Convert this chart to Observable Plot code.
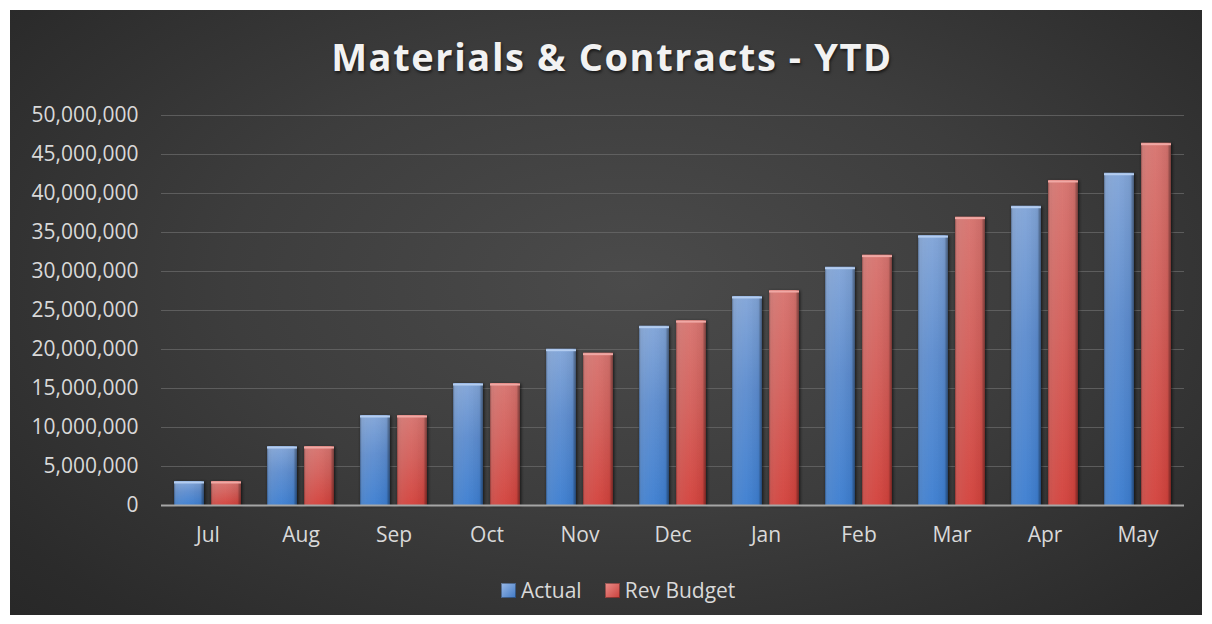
<!DOCTYPE html>
<html>
<head>
<meta charset="utf-8">
<script src="https://cdn.jsdelivr.net/npm/d3@7"></script>
<script src="https://cdn.jsdelivr.net/npm/@observablehq/plot@0.6"></script>
<style>
  html, body { margin: 0; padding: 0; background: #ffffff; }
  #panel {
    position: absolute; left: 10px; top: 10px; width: 1192px; height: 605px;
    background: radial-gradient(ellipse 75% 85% at 52% 45%, #4b4b4b 0%, #3d3d3d 45%, #2b2b2b 85%, #262626 100%);
    font-family: "Open Sans", "Noto Sans", sans-serif; overflow: hidden;
  }
  #title {
    position: absolute; left: 0; width: 1192px; top: 27px; text-align: center;
    font-size: 38px; line-height: 38px; font-weight: 700; letter-spacing: 1.6px;
    color: #f2f2f2; text-shadow: 1px 2px 3px rgba(0,0,0,0.6); padding-left: 12px; box-sizing: border-box;
  }
  #chart { position: absolute; left: 0; top: 85px; }
  #legend {
    position: absolute; left: 491px; top: 566px; display: flex; align-items: center;
    font-size: 21px; color: #d9d9d9; line-height: 28px;
  }
  .sw { width: 15px; height: 15px; display: inline-block; margin-right: 5px; box-shadow: inset 0 0 0 1px rgba(0,0,0,0.35); }
  .item { display: flex; align-items: center; margin-right: 23px; }
</style>
</head>
<body>
<div id="panel">
  <div id="title">Materials &amp; Contracts - YTD</div>
  <div id="chart"></div>
  <div id="legend"></div>
</div>
<script>
const months = ["Jul","Aug","Sep","Oct","Nov","Dec","Jan","Feb","Mar","Apr","May"];
const series = ["Actual","Rev Budget"];
const actual = [3080000, 7560000, 11540000, 15640000, 20040000, 22990000, 26800000, 30550000, 34600000, 38370000, 42600000];
const revBudget = [3080000, 7560000, 11540000, 15640000, 19530000, 23700000, 27560000, 32100000, 36970000, 41670000, 46450000];
const yTicks = [0, 5000000, 10000000, 15000000, 20000000, 25000000, 30000000, 35000000, 40000000, 45000000, 50000000];
const fills = {"Actual": "url(#gradBlue)", "Rev Budget": "url(#gradRed)"};
const swatch = {"Actual": "linear-gradient(135deg,#9cbbe8,#3f78c4)", "Rev Budget": "linear-gradient(135deg,#ec8e8a,#c8403b)"};

const data = [];
months.forEach((m, i) => {
  data.push({month: m, series: "Actual", value: actual[i]});
  data.push({month: m, series: "Rev Budget", value: revBudget[i]});
});

const chart = Plot.plot({
  width: 1192,
  height: 465,
  marginLeft: 149,
  marginRight: 16,
  marginTop: 20,
  marginBottom: 55,
  style: {background: "transparent", color: "#d9d9d9", fontFamily: "'Open Sans', 'Noto Sans', sans-serif", fontSize: "21px", overflow: "visible"},
  fx: {domain: months, padding: 0, label: null},
  x: {domain: series, paddingInner: 0.2, paddingOuter: 0.35, axis: null},
  y: {domain: [0, 50000000], label: null},
  marks: [
    Plot.gridY(yTicks, {stroke: "#6a6a6a", strokeOpacity: 0.75, strokeWidth: 1.2}),
    Plot.axisY(yTicks, {tickSize: 0, tickPadding: 23, tickFormat: d3.format(","), fontSize: 21, fill: "#d9d9d9"}),
    Plot.axisFx({anchor: "bottom", tickSize: 0, tickPadding: 22, fontSize: 21, fill: "#d9d9d9", label: null}),
    Plot.barY(data, {fx: "month", x: "series", y: "value", fill: d => fills[d.series]}),
    Plot.barY(data, {fx: "month", x: "series", y: "value", fill: "url(#gradShade)"}),
    Plot.tickY(data, {fx: "month", x: "series", y: "value", stroke: d => d.series === "Actual" ? "#b4cdf0" : "#f0a8a4", strokeWidth: 2, dy: 1}),
    Plot.ruleY([0], {stroke: "#a6a6a6", strokeWidth: 2})
  ]
});

// gradient definitions for the bar fills
const svg = d3.select(chart);
const defs = svg.insert("defs", ":first-child");
function vgrad(id, stops) {
  const g = defs.append("linearGradient").attr("id", id).attr("x1", 0).attr("y1", 0).attr("x2", 0).attr("y2", 1);
  stops.forEach(([o, c]) => g.append("stop").attr("offset", o).attr("stop-color", c));
}
vgrad("gradBlue", [[0, "#85a9dd"], [0.45, "#5f90d4"], [1, "#3f82d6"]]);
vgrad("gradRed", [[0, "#dc7772"], [0.45, "#d9625d"], [1, "#d8443e"]]);
const sh = defs.append("linearGradient").attr("id", "gradShade").attr("x1", 0).attr("y1", 0).attr("x2", 1).attr("y2", 0);
[[0, "#000", 0.35], [0.08, "#fff", 0.10], [0.45, "#fff", 0.04], [0.88, "#000", 0.05], [1, "#000", 0.4]].forEach(([o, c, a]) =>
  sh.append("stop").attr("offset", o).attr("stop-color", c).attr("stop-opacity", a));
svg.selectAll("g[aria-label='bar']").style("filter", "drop-shadow(1px 1px 1.5px rgba(0,0,0,0.55))");

document.getElementById("chart").appendChild(chart);

const legend = document.getElementById("legend");
series.forEach(s => {
  const item = document.createElement("div");
  item.className = "item";
  const sw = document.createElement("span");
  sw.className = "sw";
  sw.style.background = swatch[s];
  const t = document.createElement("span");
  t.textContent = s;
  item.appendChild(sw); item.appendChild(t);
  legend.appendChild(item);
});
</script>
</body>
</html>
